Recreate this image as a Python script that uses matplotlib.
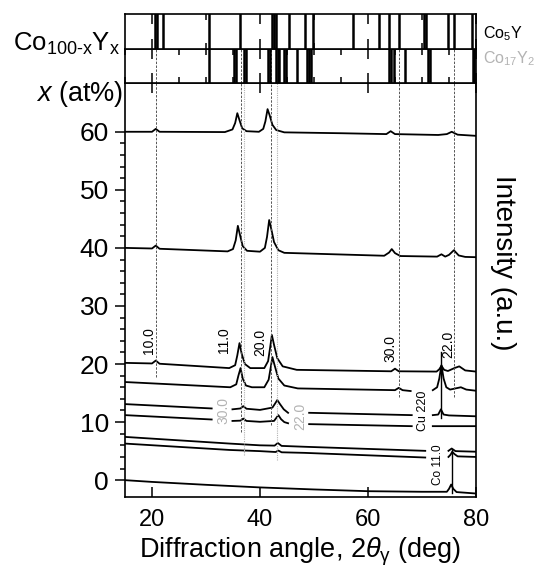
import numpy as np
import matplotlib
matplotlib.use("Agg")
import matplotlib.pyplot as plt
from matplotlib.ticker import MultipleLocator, FixedLocator

plt.rcParams['font.family'] = 'Liberation Sans'
plt.rcParams['mathtext.fontset'] = 'custom'
plt.rcParams['mathtext.rm'] = 'Liberation Sans'
plt.rcParams['mathtext.it'] = 'Liberation Sans:italic'
plt.rcParams['mathtext.default'] = 'regular'

nan = np.nan

# XRD patterns, offset at their Y content x (at%)
c60_x = [15, 20.0, 20.7, 21.4, 33.5, 34.9, 35.4, 35.8, 36.2, 36.7, 37.5, 39.8, 40.6, 41.0, 41.4, 41.8,
         42.3, 43.0, 44.5, 55, 63.4, 64.2, 65.0, 73, 74.6, 75.5, 76.6, 80]
c60_y = [60.0, 60.0, 60.5, 60.0, 59.95, 60.4, 61.5, 63.2, 62.0, 60.6, 60.1, 60.0, 60.5, 61.8, 63.9, 62.8,
         61.2, 60.3, 59.9, 59.75, 59.6, 60.1, 59.6, 59.45, 59.6, 60.0, 59.5, 59.3]

c40_x = [15, 20.0, 20.7, 21.4, 34.0, 35.0, 35.5, 35.9, 36.3, 36.8, 37.6, 40.0, 40.9, 41.3, 41.7, 42.1,
         42.6, 43.4, 44.5, 63.0, 63.9, 64.4, 65.0, 66.0, 72.8, 73.6, 74.3, 75.0, 75.9, 76.8, 78, 80]
c40_y = [40.0, 39.9, 40.4, 39.85, 39.4, 39.8, 41.3, 43.8, 42.2, 40.3, 39.5, 39.35, 40.0, 41.9, 44.8, 43.2,
         41.0, 39.6, 39.15, 38.65, 39.2, 39.8, 39.1, 38.6, 38.5, 38.9, 38.5, 38.8, 39.6, 38.7, 38.45, 38.4]

c20_x = [15, 20.0, 20.7, 21.4, 34.3, 35.4, 35.8, 36.2, 36.6, 37.2, 38.2, 40.8, 41.5, 41.9, 42.2, 42.6,
         43.2, 44.2, 46.8, 64.3, 65.0, 65.7, 72.7, 73.2, 73.6, 74.1, 74.8, 76.0, 76.9, 78.0, 80]
c20_y = [20.2, 20.1, 20.6, 20.05, 19.3, 19.8, 21.5, 23.6, 21.8, 20.0, 19.3, 19.3, 20.5, 23.0, 25.0, 23.3,
         21.0, 19.6, 19.0, 18.75, 19.2, 18.75, 18.7, 19.1, 19.7, 19.0, 18.8, 19.3, 19.6, 18.9, 18.7]

c17_x = [15, 34.5, 35.6, 36.0, 36.4, 36.8, 37.4, 38.5, 40.8, 41.6, 42.0, 42.3, 42.7, 43.4, 44.5, 47,
         65.0, 65.7, 66.4, 67.9, nan, 72.0, 72.8, 73.2, 73.6, 74.0, 74.5, 75.2, 76.2, 77.2, 78.2, 80]
c17_y = [16.9, 16.0, 16.5, 18.0, 19.3, 17.5, 16.3, 16.0, 16.0, 17.3, 19.5, 21.2, 19.8, 17.5, 16.3, 15.8,
         15.5, 15.9, 15.5, 15.35, nan, 15.5, 16.0, 17.5, 19.8, 17.5, 16.0, 15.6, 15.8, 16.0, 15.6, 15.4]

c13_x = [15, 31.05, nan, 34.9, 36.4, 36.9, 37.5, 40, 42.3, 42.8, 43.2, 43.7, 44.4, 45.2, nan,
         49.1, 68.1, nan, 72.0, 73.0, 73.5, 74.0, 75, 80]
c13_y = [13.1, 12.35, nan, 12.2, 12.35, 12.75, 12.3, 12.1, 12.5, 13.2, 13.8, 13.1, 12.2, 11.6, nan,
         11.6, 11.2, nan, 11.2, 11.3, 12.2, 11.3, 11.15, 11.0]

c11_x = [15, 31.05, nan, 34.9, 36.4, 36.9, 37.5, 40, 42.6, 43.0, 43.4, 43.9, 44.5, 45.2, nan,
         49.1, 68.1, nan, 72.0, 80]
c11_y = [11.2, 10.45, nan, 10.2, 10.25, 10.6, 10.2, 10.05, 10.2, 10.7, 11.2, 10.5, 10.0, 9.8, nan,
         9.65, 9.3, nan, 9.3, 9.3]

c7_x = [15, 34.4, 40, 42.7, 43.3, 44.0, 48.3, 70.6, nan, 74.9, 75.5, 76.2, 80]
c7_y = [7.45, 6.3, 6.0, 5.95, 6.4, 5.9, 5.75, 5.05, nan, 5.05, 5.45, 5.0, 4.9]

c6_x = [15, 34.4, 40, 42.9, 43.4, 44.0, 48.3, 70.6, nan, 74.9, 75.3, 75.6, 76.0, 76.6, 80]
c6_y = [6.3, 5.2, 5.0, 4.85, 5.1, 4.8, 4.7, 3.9, nan, 4.0, 4.4, 4.9, 4.5, 4.1, 4.0]

c0_x = [15, 20, 30, 40, 50, 60, 70, 74.6, 75.0, 75.4, 75.8, 76.4, 80]
c0_y = [0.0, -0.3, -0.8, -1.25, -1.6, -1.9, -2.0, -2.0, -1.5, -0.75, -1.5, -2.05, -2.3]

curves = [(c60_x, c60_y), (c40_x, c40_y), (c20_x, c20_y), (c17_x, c17_y), (c13_x, c13_y),
          (c11_x, c11_y), (c7_x, c7_y), (c6_x, c6_y), (c0_x, c0_y)]

# reference stick patterns
co5y_pos = [20.6, 20.9, 22.1, 30.6, 36.3, 42.3, 42.6, 43.0, 45.4, 48.3, 49.9, 57.2, 62.0, 63.9,
            65.7, 70.4, 70.7, 74.9, 75.9, 79.2]
co17y2_pos = [30.6, 35.2, 35.6, 37.0, 37.4, 41.5, 41.8, 43.0, 43.3, 43.6, 44.4, 44.8, 46.9, 48.7,
              49.0, 49.5, 63.8, 64.3, 64.8, 66.9, 71.2, 71.5, 79.4, 79.7]

# indexed peak guide lines (position, lower end)
co5y_ref = [20.7, 36.4, 42.1, 65.8, 75.9]
co5y_ref_end = [17.8, 8.3, 9.5, 14.3, 14.3]
co5y_hkl = ["10.0", "11.0", "20.0", "30.0", "22.0"]
co17_ref = [37.1, 43.2]
co17_ref_end = [4.3, 3.4]
co17_hkl = ["30.0", "22.0"]

cu_pos, cu_top, cu_bot = 73.6, 22.1, 10.7
co_pos, co_top, co_bot = 75.6, 5.2, -2.2

W, H = 554, 567
fig = plt.figure(figsize=(W / 100, H / 100), dpi=100)

L, R = 125 / W, 476 / W
ax = fig.add_axes([L, 1 - 497 / H, R - L, (497 - 83) / H])
ax2 = fig.add_axes([L, 1 - 83 / H, R - L, (83 - 49) / H])
ax1 = fig.add_axes([L, 1 - 49 / H, R - L, (49 - 14) / H])

gray = '#b3b3b3'
dark = '#555555'

for xs, ys in curves:
    ax.plot(xs, ys, color='black', lw=1.3)

for p, e in zip(co5y_ref, co5y_ref_end):
    ax.plot([p, p], [e, 68.4], color=dark, lw=0.7, ls=(0, (2.5, 1.5)))
    ax2.axvline(p, color=dark, lw=0.7, ls=(0, (2.5, 1.5)))
for p, e in zip(co17_ref, co17_ref_end):
    ax.plot([p, p], [e, 68.4], color=gray, lw=0.8, ls=(0, (1, 1)))

ax.plot([cu_pos, cu_pos], [cu_bot, cu_top], color='black', lw=1.0)
ax.plot([co_pos, co_pos], [co_bot, co_top], color='black', lw=1.0)

# peak labels
lab_xy = [(19.5, 24.0), (33.3, 24.1), (40.1, 23.8), (64.1, 22.7), (74.9, 23.4)]
for t, (x, y) in zip(co5y_hkl, lab_xy):
    ax.text(x, y, t, rotation=90, ha='center', va='center', fontsize=10)
for t, (x, y) in zip(co17_hkl, [(33.2, 11.95), (47.4, 11.0)]):
    ax.text(x, y, t, rotation=90, ha='center', va='center', fontsize=10, color=gray)
ax.text(70.1, 11.95, "Cu 220", rotation=90, ha='center', va='center', fontsize=9)
ax.text(72.9, 2.75, "Co 11.0", rotation=90, ha='center', va='center', fontsize=8.5)

ax.set_xlim(15, 80)
ax.set_ylim(-2.9, 68.4)
ax.xaxis.set_major_locator(FixedLocator([20, 40, 60, 80]))
ax.yaxis.set_major_locator(FixedLocator([0, 10, 20, 30, 40, 50, 60]))
ax.yaxis.set_minor_locator(FixedLocator(np.arange(0, 61, 2)))
ax.tick_params(axis='x', direction='in', top=True, length=7, width=1.1, labelsize=17, pad=9)
ax.tick_params(axis='y', which='major', direction='out', length=7, width=1.1, labelsize=19, pad=4.5)
ax.tick_params(axis='y', which='minor', direction='out', length=3.5, width=1.1)
ax.set_xlabel(r"Diffraction angle, 2$\mathit{\theta}_{\gamma}$ (deg)", fontsize=19.5, labelpad=3)

for a in (ax, ax1, ax2):
    for s in a.spines.values():
        s.set_linewidth(1.2)

for a, pos, minor in ((ax1, co5y_pos, 10), (ax2, co17y2_pos, 5)):
    a.set_xlim(15, 80)
    a.set_ylim(0, 1)
    for p in pos:
        a.axvline(p, color='black', lw=1.8)
    a.set_yticks([])
    a.xaxis.set_major_locator(MultipleLocator(20))
    a.xaxis.set_minor_locator(MultipleLocator(minor))
    a.tick_params(axis='x', which='both', direction='in', top=True, labelbottom=False, width=1.1)
    a.tick_params(axis='x', which='major', length=7)
    a.tick_params(axis='x', which='minor', length=4)

fig.text(120 / W, 1 - 51 / H, r"Co$_{100\text{-}x}$Y$_{x}$", ha='right', va='baseline', fontsize=18.5)
fig.text(123 / W, 1 - 101 / H, r"$\mathit{x}$ (at%)", ha='right', va='baseline', fontsize=19.5)
fig.text(483 / W, 1 - 38.5 / H, r"Co$_5$Y", ha='left', va='baseline', fontsize=11.5)
fig.text(483 / W, 1 - 63.5 / H, r"Co$_{17}$Y$_2$", ha='left', va='baseline', fontsize=11.5, color=gray)
fig.text(503 / W, 1 - 263 / H, "Intensity (a.u.)", rotation=270, ha='center', va='center', fontsize=20)

fig.savefig("out.png", dpi=100)
